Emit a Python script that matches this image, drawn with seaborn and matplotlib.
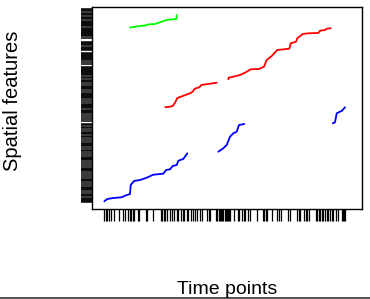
import numpy as np
import pandas as pd
import matplotlib
matplotlib.use("Agg")
import matplotlib.pyplot as plt
import seaborn as sns
from matplotlib.lines import Line2D

sns.set_style("white")
plt.rcParams['font.family'] = ['Liberation Sans', 'DejaVu Sans']

# ---- data (time points, spatial feature values) ----
green_t = [38, 42, 46, 53, 56, 63, 68, 73, 76, 81, 84.5, 84.7]
green_f = [181.5, 182, 182.7, 183.5, 184.5, 185, 186.7, 188.5, 189.2, 189.7, 190, 194]

red1_t = [73.3, 78, 80.7, 83, 85.3, 90.7, 98, 100.7, 102.7, 107.3, 109.3, 118, 124.7]
red1_f = [101.7, 102.3, 103, 106.3, 111, 113, 115.7, 117.3, 120.3, 121.7, 124, 125.3, 126.3]

red2_t = [136.3, 136.7, 141.3, 148, 153, 158.7, 167, 172, 174.7, 179.7, 185.3, 197.3,
          198.7, 204, 205.3, 210.7, 216.3, 226.3, 228, 233, 234.7, 238.7]
red2_f = [129.7, 131.3, 132.3, 134, 136.3, 139.7, 140, 142.3, 149, 153, 159, 160.3,
          165.7, 167.3, 170.7, 175, 175.7, 176, 178.3, 179, 180.3, 180.7]

blue1_t = [12.3, 15.3, 21.3, 29.7, 33, 38, 38.7, 42, 48, 54.7, 61.3, 71.3, 74, 78,
           80.7, 84.7, 86.3, 91.3, 95.3]
blue1_f = [7.7, 10, 11, 11.7, 13.3, 15, 24, 28, 29, 31.3, 34.3, 35.3, 39, 39.7,
           43, 44, 48.3, 50, 55.7]

blue2_t = [126.3, 131.3, 134.7, 138, 141.3, 144.7, 147, 152.3]
blue2_f = [57.3, 60.7, 64, 72.3, 75.7, 77.3, 84, 85]

blue3_t = [240.7, 243, 244.7, 247.3, 249.7, 253]
blue3_f = [85.7, 86.7, 95.7, 97, 98, 101.7]

time_rug = [12, 14, 15, 17, 19, 22, 27, 31, 33, 36, 38, 39, 41, 42, 46, 47, 54, 55,
            61, 69, 70, 72, 73, 75, 78, 80, 82, 85, 86, 89, 91, 92, 95, 96, 99, 101,
            103, 105, 108, 110, 115, 117, 118, 124, 125, 127, 128, 129, 130, 131, 133,
            134, 135, 136, 137, 138, 142, 146, 147, 150, 152, 153, 156, 158, 165, 171,
            172, 174, 175, 180, 185, 187, 189, 196, 198, 205, 207, 208, 212, 214, 215,
            217, 224, 225, 227, 228, 230, 231, 233, 235, 236, 238, 240, 241, 244, 246,
            250, 251, 252, 253]

feature_rug_py = [9, 10, 11, 13, 14, 15, 17, 18, 19, 20.5, 22, 23, 24, 25, 26, 27.5,
                  29, 30, 31, 32, 33, 34, 35, 36, 38, 42, 43, 44, 45, 47, 48, 49, 50,
                  53, 54, 55, 56, 57, 58, 59, 60, 62, 63.5, 67, 68, 69, 70, 71, 72, 73,
                  74, 75, 77, 78, 80, 81, 82, 84, 86, 87, 88, 89, 91, 93, 94, 95, 96,
                  97, 98, 100, 102, 104, 105, 106, 107, 108, 110, 111, 112, 113, 115,
                  117, 119, 121, 124, 125, 127, 128, 130, 132, 133, 134, 136, 137, 139,
                  141, 143, 144, 145, 146, 148, 150, 151, 153, 155, 157, 158, 159, 160,
                  162, 164, 166, 168, 169, 170, 171, 173, 175, 177, 179, 180, 181, 183,
                  185, 187, 188, 189, 190, 192, 194, 195, 196, 198, 199, 200, 201, 202]
feature_rug = [209 - v for v in feature_rug_py]

segments = [
    (green_t, green_f, "#00ff00"),
    (red1_t, red1_f, "#ff0000"),
    (red2_t, red2_f, "#ff0000"),
    (blue1_t, blue1_f, "#0000ff"),
    (blue2_t, blue2_f, "#0000ff"),
    (blue3_t, blue3_f, "#0000ff"),
]

W, H = 370, 299
fig = plt.figure(figsize=(W / 100, H / 100), dpi=100)
ax = fig.add_axes([92 / W, (H - 209) / H, (362 - 92) / W, (209 - 6.7) / H])

for t, f, c in segments:
    df = pd.DataFrame({"t": t, "f": f})
    sns.lineplot(data=df, x="t", y="f", sort=False, estimator=None, color=c,
                 linewidth=1.3, ax=ax)

sns.rugplot(x=time_rug, height=-0.06, clip_on=False, color="black",
            linewidth=0.9, ax=ax, expand_margins=False)
sns.rugplot(y=feature_rug, height=-0.042, clip_on=False, color="black",
            linewidth=1.1, ax=ax, expand_margins=False)

ax.set_xlim(0, 270)
ax.set_ylim(0, 202.3)
ax.set_xticks([])
ax.set_yticks([])
ax.set_xlabel("")
ax.set_ylabel("")
for s in ax.spines.values():
    s.set_visible(True)
    s.set_color("black")
    s.set_linewidth(1.0)

fig.text(13 / W, 1 - 101 / H, "Spatial features", rotation=90, ha="center",
         va="center", fontsize=14.5, color="black")
fig.text(227 / W, 1 - 289 / H, "Time points", ha="center", va="center",
         fontsize=14, color="black")
fig.add_artist(Line2D([0, 1], [1 - 297.5 / H, 1 - 297.5 / H], transform=fig.transFigure,
                      color="#333333", linewidth=1.2))

fig.savefig("out.png", dpi=100)
